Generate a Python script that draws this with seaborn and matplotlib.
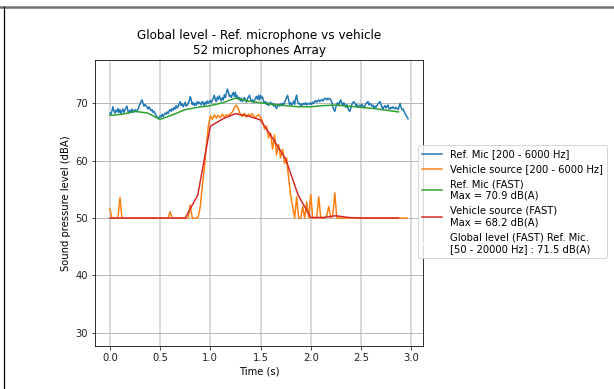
import numpy as np
import pandas as pd
import matplotlib
matplotlib.use("Agg")
import matplotlib.pyplot as plt
from matplotlib.lines import Line2D
import seaborn as sns

# ---------------- data ----------------
dt_ref = 0.01
ref_mic = [
    68.3, 68.1, 68.6, 69.4, 68.7, 68.3, 68.8, 68.5, 69.1, 68.4,
    68.9, 68.2, 68.7, 69.0, 68.4, 68.9, 69.2, 69.5, 68.6, 68.3,
    68.8, 68.5, 69.0, 68.4, 68.7, 68.9, 68.5, 68.8, 69.0, 69.4,
    69.9, 70.3, 70.6, 70.0, 69.5, 69.8, 69.6, 69.3, 69.0, 69.4,
    69.0, 68.7, 68.9, 68.4, 68.6, 68.2, 67.9, 67.6, 67.3, 67.5,
    67.8, 67.6, 68.1, 67.7, 68.0, 68.3, 68.1, 68.5, 68.2, 68.7,
    68.9, 68.6, 69.1, 68.8, 69.3, 69.0, 69.6, 69.2, 69.4, 69.9,
    70.3, 69.6, 69.9, 69.4, 69.8, 70.2, 69.5, 69.7, 70.0, 70.4,
    71.2, 70.6, 69.8, 70.1, 69.6, 70.0, 69.7, 70.3, 69.9, 70.2,
    70.0, 69.7, 70.3, 70.1, 69.6, 70.2, 69.9, 70.4, 70.0, 70.3,
    70.5, 70.1, 70.6, 70.9, 71.4, 70.6, 70.3, 71.1, 70.7, 71.3,
    70.8, 70.4, 71.0, 70.6, 71.5, 71.0, 71.8, 72.5, 71.9, 71.2,
    71.4, 71.0, 71.6, 71.9, 71.2, 71.9, 70.9, 71.3, 70.7, 71.0,
    70.4, 70.9, 70.3, 70.7, 71.0, 70.6, 70.2, 70.8, 71.1, 71.4,
    70.8, 70.3, 70.6, 70.1, 70.5, 70.9, 71.2, 70.7, 71.4, 70.6,
    71.4, 70.9, 71.1, 70.4, 70.0, 70.3, 69.8, 70.1, 69.6, 69.9,
    70.2, 69.8, 70.0, 69.5, 69.9, 69.4, 69.1, 69.6, 69.8, 69.5,
    69.9, 69.6, 70.0, 69.7, 70.2, 70.6, 71.0, 71.4, 70.6, 69.8,
    70.1, 69.7, 70.0, 70.4, 69.8, 70.9, 71.4, 70.3, 69.9, 70.0,
    69.6, 69.9, 69.7, 70.0, 69.8, 70.1, 69.7, 69.9, 70.0, 69.8,
    70.1, 69.8, 70.2, 70.0, 70.3, 70.5, 70.2, 70.4, 70.6, 70.3,
    70.5, 70.7, 70.4, 70.6, 70.9, 70.8, 70.6, 70.9, 70.7, 70.8,
    70.6, 70.2, 69.4, 68.9, 68.6, 69.3, 69.9, 70.1, 69.6, 70.3,
    70.6, 70.0, 69.6, 70.1, 69.7, 69.3, 69.8, 69.2, 68.8, 68.6,
    69.2, 69.8, 70.1, 70.3, 70.0, 69.6, 69.8, 69.3, 69.5, 69.7,
    69.4, 69.8, 69.5, 69.2, 69.6, 69.9, 70.1, 70.3, 69.7, 70.0,
    69.8, 69.5, 69.7, 69.2, 69.5, 69.3, 69.6, 69.9, 70.1, 70.3,
    69.8, 69.3, 68.9, 69.4, 69.6, 69.2, 69.5, 69.7, 69.1, 69.0,
    69.3, 69.1, 69.4, 69.2, 69.0, 69.3, 69.1, 68.9, 69.4, 70.0,
    69.3, 68.9, 69.0, 68.6, 68.2, 67.9, 67.6, 67.3,
]
dt_veh = 0.02
vehicle = [
    51.6, 50.0, 50.0, 50.0, 50.0, 53.6, 50.0, 50.0, 50.0, 50.0,
    50.0, 50.0, 50.0, 50.0, 50.0, 50.0, 50.0, 50.0, 50.0, 50.0,
    50.0, 50.0, 50.0, 50.0, 50.0, 50.0, 50.0, 50.0, 50.0, 50.0,
    51.1, 50.0, 50.0, 50.0, 50.0, 50.0, 50.0, 50.0, 50.0, 50.0,
    52.3, 50.0, 50.0, 50.0, 50.2, 52.0, 55.5, 58.5, 62.5, 66.0,
    67.8, 67.2, 68.0, 67.4, 67.9, 67.5, 68.1, 67.6, 68.0, 67.8,
    68.2, 68.5, 69.2, 69.7, 69.0, 68.0, 67.7, 68.3, 67.6, 68.1,
    67.9, 68.2, 67.5, 67.7, 68.0, 67.6, 66.8, 65.5, 66.0, 64.0,
    64.8, 62.0, 64.5, 61.0, 62.8, 60.5, 62.0, 59.5, 60.5, 57.0,
    54.0, 52.0, 50.0, 53.7, 50.0, 50.0, 52.0, 50.0, 52.8, 50.0,
    54.1, 50.0, 50.0, 50.0, 53.7, 50.0, 50.0, 50.0, 50.5, 52.0,
    50.0, 50.5, 54.4, 50.0, 50.0, 50.0, 50.0, 50.0, 50.0, 50.0,
    50.0, 50.0, 50.0, 50.0, 50.0, 50.0, 50.0, 50.0, 50.0, 50.0,
    50.0, 50.0, 50.0, 50.0, 50.0, 50.0, 50.0, 50.0, 50.0, 50.0,
    50.0, 50.0, 50.0, 50.0, 50.0, 50.0, 50.0, 50.0, 50.0,
]
dt_fast = 0.125
ref_mic_fast = [
    67.9, 68.1, 68.6, 68.3, 67.2, 68.0, 68.9, 69.3, 69.6, 70.1,
    70.9, 70.4, 70.1, 69.8, 69.6, 69.4, 69.4, 69.6, 69.7, 69.5,
    69.3, 69.1, 68.8, 68.5,
]
vehicle_fast = [
    50.0, 50.0, 50.0, 50.0, 50.0, 50.0, 50.0, 54.0, 66.0, 67.3,
    68.2, 67.8, 67.1, 63.8, 60.3, 54.0, 50.1, 50.1, 50.4, 50.1,
    50.0, 50.0, 50.0, 50.0,
]
labels = [
    "Ref. Mic [200 - 6000 Hz]",
    "Vehicle source [200 - 6000 Hz]",
    "Ref. Mic (FAST)\nMax = 70.9 dB(A)",
    "Vehicle source (FAST)\nMax = 68.2 dB(A)",
    "Global level (FAST) Ref. Mic.\n[50 - 20000 Hz] : 71.5 dB(A)",
]
title = "Global level - Ref. microphone vs vehicle\n52 microphones Array"

df_ref = pd.DataFrame({"t": np.arange(len(ref_mic)) * dt_ref, "v": ref_mic})
df_veh = pd.DataFrame({"t": np.arange(len(vehicle)) * dt_veh, "v": vehicle})
t_fast = np.arange(len(ref_mic_fast)) * dt_fast
df_fast = pd.DataFrame({"t": t_fast, "ref": ref_mic_fast, "veh": vehicle_fast})

# ---------------- plot ----------------
DPI = 72
fig = plt.figure(figsize=(614 / DPI, 389 / DPI), dpi=DPI)
ax = fig.add_axes([95 / 614, 1 - 346 / 389, 328 / 614, 286 / 389])

pal = sns.color_palette("tab10")
LW = 1.5
sns.lineplot(data=df_ref, x="t", y="v", ax=ax, color=pal[0], lw=LW, label=labels[0])
sns.lineplot(data=df_veh, x="t", y="v", ax=ax, color=pal[1], lw=LW, label=labels[1])
sns.lineplot(data=df_fast, x="t", y="ref", ax=ax, color=pal[2], lw=LW, label=labels[2])
sns.lineplot(data=df_fast, x="t", y="veh", ax=ax, color=pal[3], lw=LW, label=labels[3])

ax.set_xlim(-0.1485, 3.1185)
ax.set_ylim(27.7, 77.55)
ax.set_xticks([0.0, 0.5, 1.0, 1.5, 2.0, 2.5, 3.0])
ax.set_yticks([30, 40, 50, 60, 70])
ax.tick_params(labelsize=10, colors="#222222", length=3.5)
ax.xaxis.grid(True, color="#d9d9d9", lw=2.0)
ax.yaxis.grid(True, color="#b8b8b8", lw=1.0)
ax.set_axisbelow(True)
ax.set_xlabel("Time (s)", fontsize=10)
ax.set_ylabel("Sound pressure level (dBA)", fontsize=10)
ax.set_title(title, fontsize=12)

handles, _ = ax.get_legend_handles_labels()
handles = handles + [Line2D([], [], color="white", lw=LW)]
ax.legend(handles, labels, loc="center left", bbox_to_anchor=(0.985, 0.505),
          borderaxespad=0, fontsize=10, framealpha=0.8)

# screenshot frame
fig.add_artist(Line2D([0, 1], [1 - 6.5 / 389, 1 - 6.5 / 389], transform=fig.transFigure,
                      color="#707070", lw=2.5))
fig.add_artist(Line2D([4 / 614, 4 / 614], [0, 1 - 7 / 389], transform=fig.transFigure,
                      color="black", lw=1.2))

fig.savefig("out.png", dpi=DPI)
